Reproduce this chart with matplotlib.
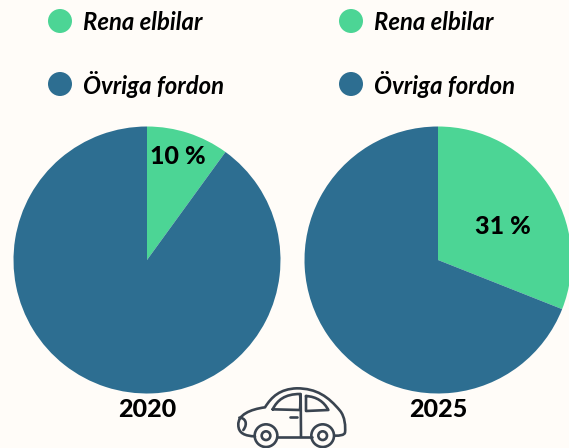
#!/usr/bin/env python3
# -*- coding: utf-8 -*-
"""Share of pure electric cars, 2020 and 2025."""

import matplotlib as mpl
mpl.use("Agg")
import matplotlib.pyplot as plt
from matplotlib.patches import Circle, Ellipse, PathPatch
from matplotlib.path import Path

mpl.rcParams["font.family"] = ["Lato", "DejaVu Sans"]

# Data
YEARS = ["2020", "2025"]
ELECTRIC = [10, 31]
OTHER = [90, 69]
LEGEND_LABELS = ["Rena elbilar", "Övriga fordon"]

# Style
W, H = 569, 448
BG = "#FFFCF8"
GREEN = "#4CD595"
BLUE = "#2D6E91"
CAR = "#3A4450"
RADIUS = 133.5
CENTERS = [(147, 260), (438, 260)]
LABEL_POS = [(178, 156.5), (503, 226.5)]
YEAR_X = [147, 438]
LEGEND_X = [60, 351]
LEGEND_Y = [21, 84]


def px_axes(fig, x0, y0, x1, y1):
    return fig.add_axes([x0 / W, 1 - y1 / H, (x1 - x0) / W, (y1 - y0) / H])


def draw_car(fig):
    # axes matches a 3x crop of the car region, so shapes are in crop units
    ax = px_axes(fig, 200, 370, 370, 448)
    ax.set_xlim(0, 510)
    ax.set_ylim(234, 0)
    ax.axis("off")
    M, C, L = Path.MOVETO, Path.CURVE4, Path.LINETO
    shapes = [
        # body
        ([(165, 199), (135, 198), (115, 190), (115, 165),
          (113, 135), (150, 118), (195, 112),
          (215, 80), (240, 57), (290, 55),
          (350, 55), (385, 80), (420, 122),
          (435, 140), (437, 170), (435, 188),
          (432, 196), (420, 197), (405, 197)],
         [M] + [C] * 18),
        # bottom
        ([(232, 200), (335, 200)], [M, L]),
        # headlight
        ([(118, 143), (135, 143), (145, 160), (130, 180)], [M, C, C, C]),
        # front window
        ([(218, 118), (232, 90), (255, 72), (300, 72),
          (302, 90), (301, 105), (300, 120), (218, 118)],
         [M, C, C, C, C, C, C, L]),
        # rear window
        ([(318, 78), (350, 80), (372, 95), (385, 120),
          (318, 123), (318, 78)], [M, C, C, C, L, L]),
        # door line
        ([(302, 72), (303, 200)], [M, L]),
        # door handle
        ([(271, 141), (291, 141)], [M, L]),
    ]
    for verts, codes in shapes:
        ax.add_patch(PathPatch(Path(verts, codes), fill=False, edgecolor=CAR,
                               linewidth=1.9, capstyle="round", joinstyle="round"))
    for cx in (198, 368):
        ax.add_patch(Circle((cx, 197), 34, fill=False, edgecolor=CAR, linewidth=1.9))
        ax.add_patch(Circle((cx, 197), 13, fill=False, edgecolor=CAR, linewidth=1.9))


def main():
    fig = plt.figure(figsize=(W / 100, H / 100), dpi=100, facecolor=BG)

    for i, year in enumerate(YEARS):
        cx, cy = CENTERS[i]
        ax = px_axes(fig, cx - RADIUS, cy - RADIUS, cx + RADIUS, cy + RADIUS)
        ax.pie([ELECTRIC[i], OTHER[i]], colors=[GREEN, BLUE], startangle=90,
               counterclock=False, radius=1.0)
        ax.set_xlim(-1, 1)
        ax.set_ylim(-1, 1)

        fig.text(LABEL_POS[i][0] / W, 1 - LABEL_POS[i][1] / H, f"{ELECTRIC[i]} %",
                 fontsize=18, fontweight="black", color="black",
                 ha="center", va="center")
        fig.text(YEAR_X[i] / W, 1 - 409.5 / H, year, fontsize=18, fontweight="black",
                 color="black", ha="center", va="center")

        for label, color, y in zip(LEGEND_LABELS, [GREEN, BLUE], LEGEND_Y):
            lx = LEGEND_X[i]
            fig.add_artist(Ellipse((lx / W, 1 - y / H), 24 / W, 24 / H,
                                   transform=fig.transFigure,
                                   facecolor=color, edgecolor="none"))
            fig.text((lx + 23) / W, 1 - (y + 1) / H, label, fontsize=17.2,
                     fontweight="bold", fontstyle="italic", color="black",
                     ha="left", va="center")

    draw_car(fig)
    fig.savefig("out.png", dpi=100, facecolor=BG)


if __name__ == "__main__":
    main()
